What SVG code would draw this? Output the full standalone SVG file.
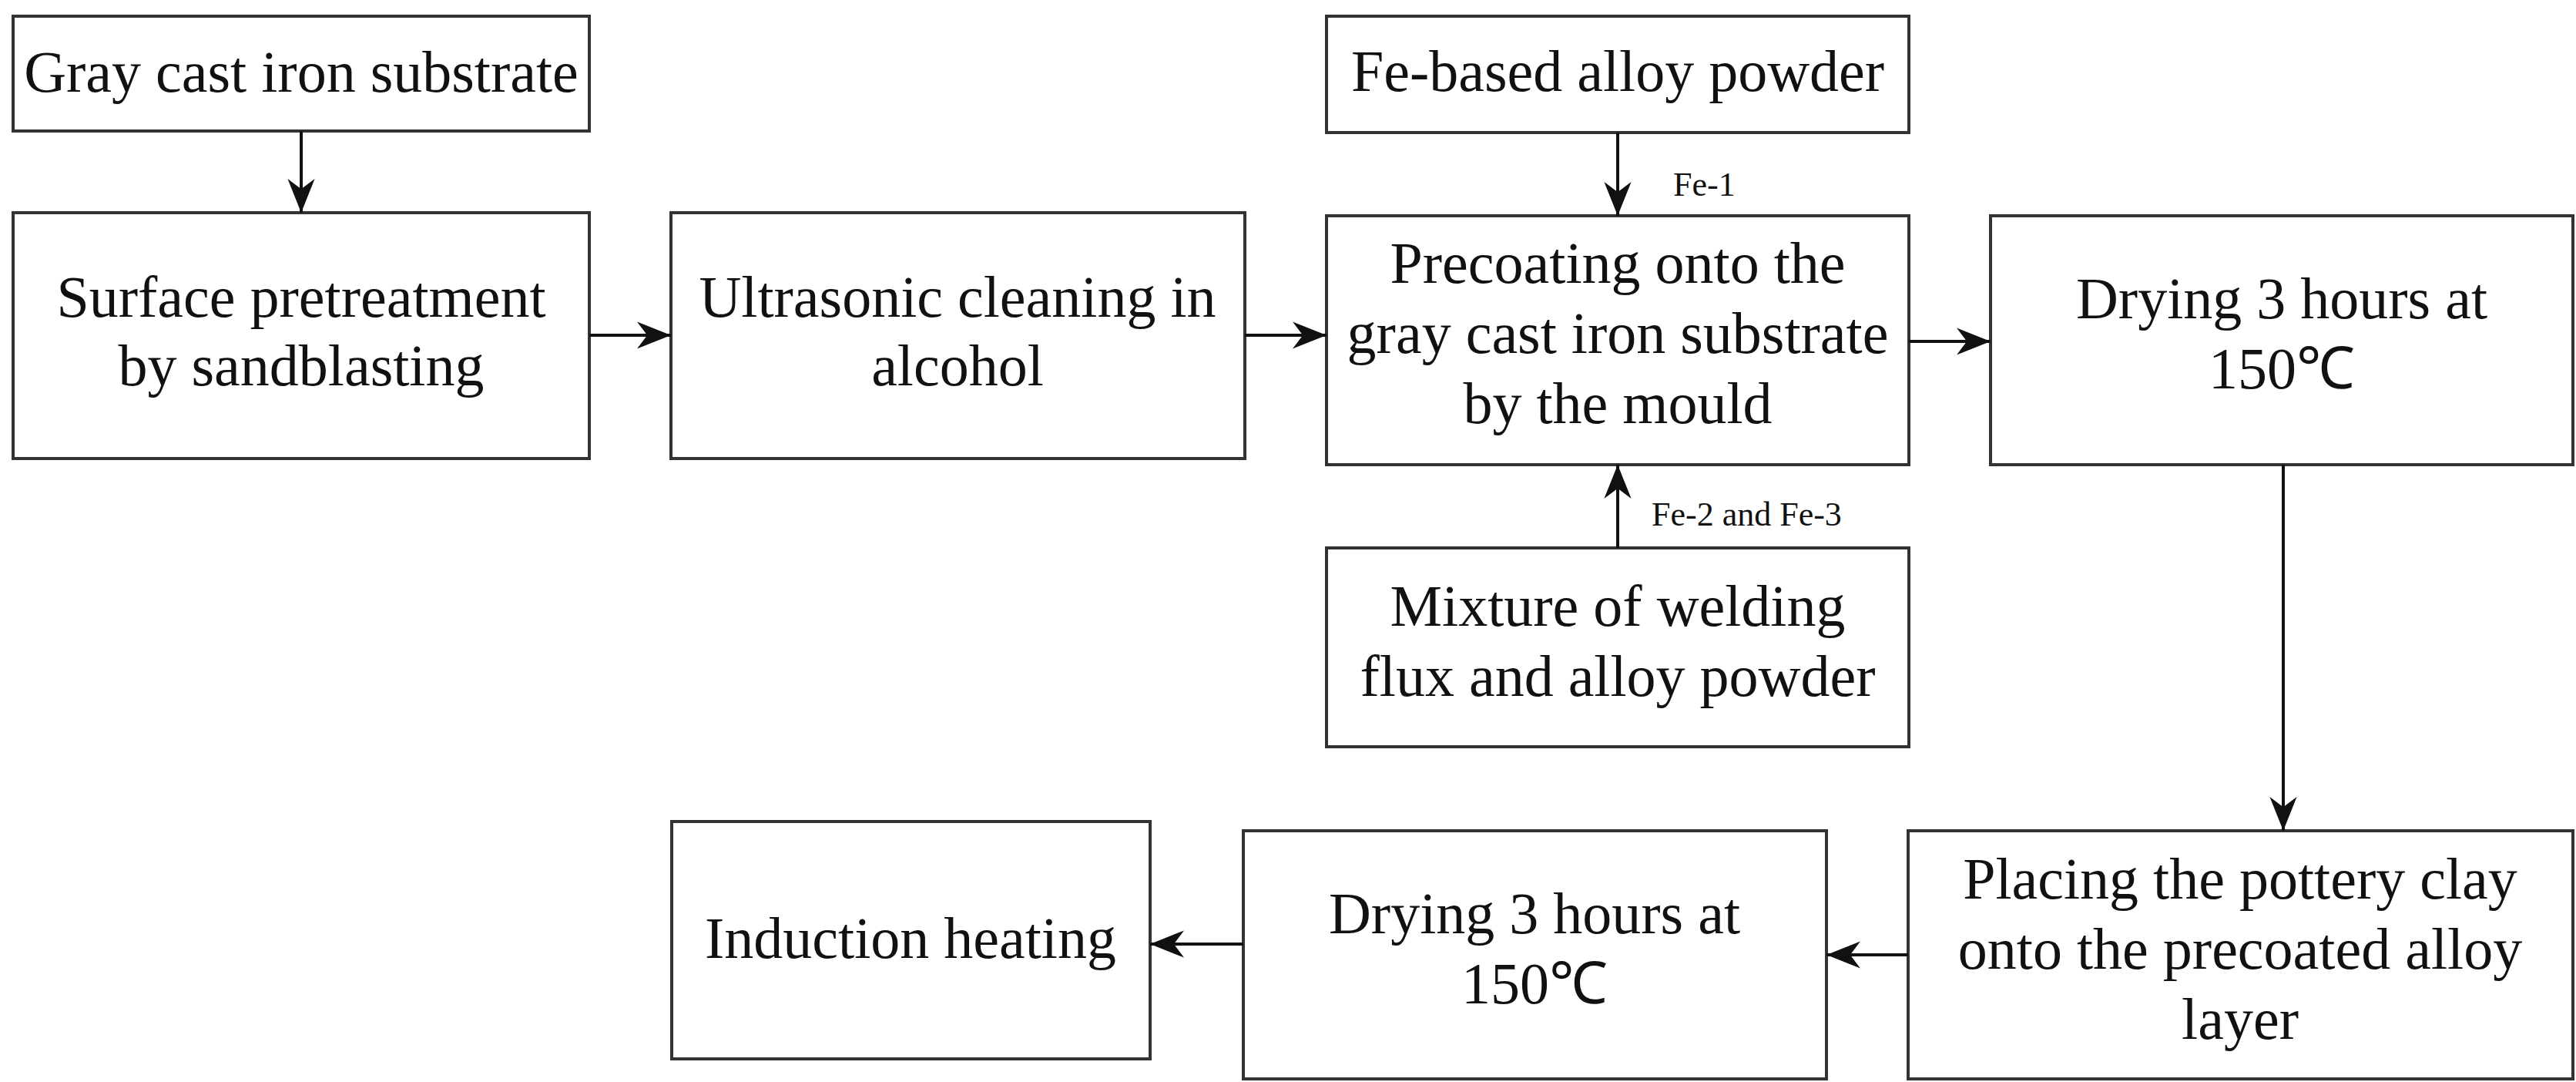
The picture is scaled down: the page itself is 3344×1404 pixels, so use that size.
<svg xmlns="http://www.w3.org/2000/svg" width="3344" height="1404" viewBox="0 0 3344 1404">
<style>
rect{fill:#fff;stroke:#333;stroke-width:4}
text{font-family:"Liberation Serif",serif;font-size:76px;fill:#111;text-anchor:middle}
.lbl{font-size:44px;text-anchor:start}
line{stroke:#111;stroke-width:4}
</style>
<defs><marker id="a" markerWidth="12" markerHeight="10" refX="12" refY="5" orient="auto" markerUnits="userSpaceOnUse" viewBox="0 0 12 10"><path d="M0,0L12,5L0,10z" fill="#111"/></marker>
<marker id="h" viewBox="0 0 10 10" refX="10" refY="5" markerWidth="44" markerHeight="44" markerUnits="userSpaceOnUse" orient="auto"><path d="M0,1L10,5L0,9L3,5z" fill="#111"/></marker></defs>
<rect width="3344" height="1404" style="fill:#fff;stroke:none"/>
<g id="n1"><rect x="17" y="21" width="748" height="149"/><text x="391" y="119">Gray cast iron substrate</text></g>
<g id="n2"><rect x="17" y="276" width="748" height="319"/><text x="391" y="411">Surface pretreatment</text><text x="391" y="500">by sandblasting</text></g>
<g id="n3"><rect x="871" y="276" width="745" height="319"/><text x="1243" y="411">Ultrasonic cleaning in</text><text x="1243" y="500">alcohol</text></g>
<g id="n4"><rect x="1722" y="21" width="756" height="151"/><text x="2100" y="118">Fe-based alloy powder</text></g>
<g id="n5"><rect x="1722" y="280" width="756" height="323"/><text x="2100" y="367">Precoating onto the</text><text x="2100" y="458">gray cast iron substrate</text><text x="2100" y="549">by the mould</text></g>
<g id="n6"><rect x="1722" y="711" width="756" height="258"/><text x="2100" y="812">Mixture of welding</text><text x="2100" y="903">flux and alloy powder</text></g>
<g id="n7"><rect x="2584" y="280" width="756" height="323"/><text x="2962" y="413">Drying 3 hours at</text><text x="2962" y="504">150℃</text></g>
<g id="n8"><rect x="2477" y="1078" width="863" height="322"/><text x="2908" y="1166">Placing the pottery clay</text><text x="2908" y="1257">onto the precoated alloy</text><text x="2908" y="1348">layer</text></g>
<g id="n9"><rect x="1614" y="1078" width="757" height="322"/><text x="1992" y="1211">Drying 3 hours at</text><text x="1992" y="1302">150℃</text></g>
<g id="n10"><rect x="872" y="1066" width="621" height="308"/><text x="1182" y="1243">Induction heating</text></g>
<g id="edges">
<line x1="391" y1="170" x2="391" y2="276" marker-end="url(#h)"/>
<line x1="765" y1="435" x2="871" y2="435" marker-end="url(#h)"/>
<line x1="1616" y1="435" x2="1722" y2="435" marker-end="url(#h)"/>
<line x1="2100" y1="172" x2="2100" y2="280" marker-end="url(#h)"/>
<line x1="2100" y1="711" x2="2100" y2="603" marker-end="url(#h)"/>
<line x1="2478" y1="443" x2="2584" y2="443" marker-end="url(#h)"/>
<line x1="2964" y1="603" x2="2964" y2="1078" marker-end="url(#h)"/>
<line x1="2477" y1="1239" x2="2371" y2="1239" marker-end="url(#h)"/>
<line x1="1614" y1="1225" x2="1493" y2="1225" marker-end="url(#h)"/>
<text class="lbl" x="2172" y="254">Fe-1</text>
<text class="lbl" x="2144" y="682">Fe-2 and Fe-3</text>
</g>
</svg>
